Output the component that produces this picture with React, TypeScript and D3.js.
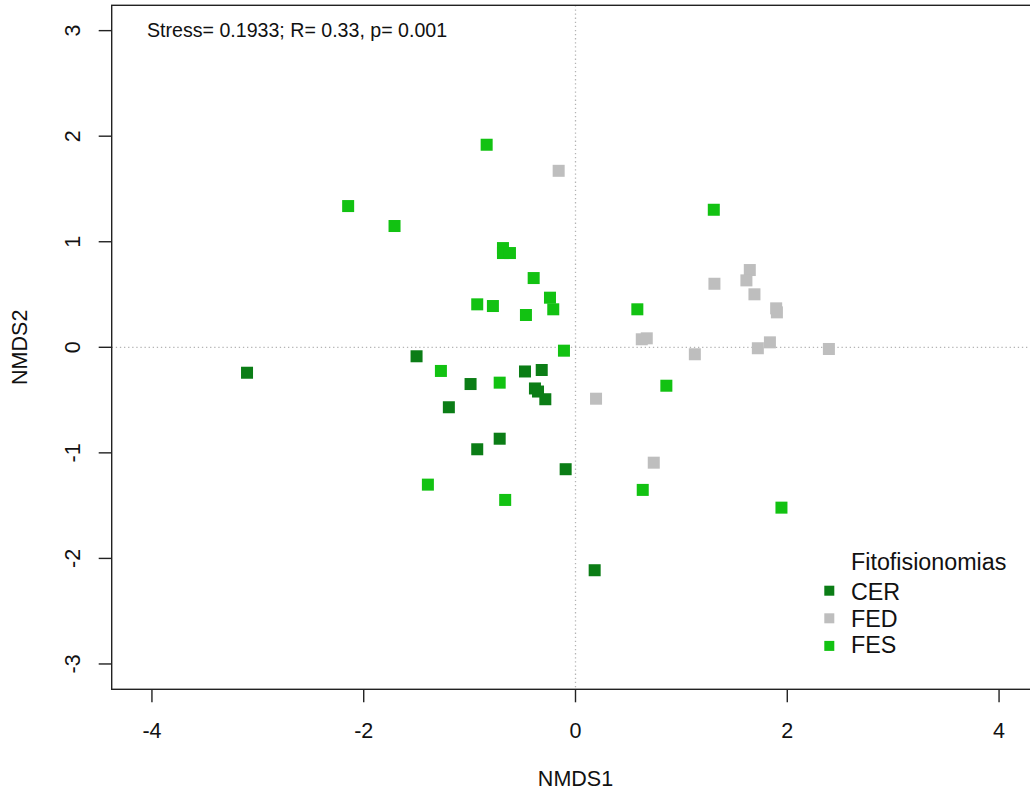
import React from "react";
import * as d3 from "d3";

const groups = ["CER", "FED", "FES"];
const groupColors = ["#0b7d16", "#bebebe", "#12c212"];

const cerX = [-3.102, -1.501, -1.196, -0.991, -0.716, -0.928, -0.477, -0.319, -0.383, -0.354, -0.285, -0.093, 0.181];
const cerY = [-0.241, -0.085, -0.568, -0.348, -0.866, -0.966, -0.229, -0.215, -0.39, -0.419, -0.492, -1.155, -2.112];

const fedX = [-0.159, 0.626, 0.673, 0.194, 0.739, 1.127, 1.312, 1.646, 1.614, 1.69, 1.895, 1.902, 1.722, 1.836, 2.393];
const fedY = [1.672, 0.076, 0.085, -0.487, -1.093, -0.066, 0.602, 0.732, 0.634, 0.502, 0.369, 0.331, -0.009, 0.047, -0.016];

const fesX = [-0.839, -2.147, -1.709, -0.685, -0.685, -0.619, -0.395, -0.928, -0.78, -0.241, -0.21, -0.468, -0.109, 0.584, 1.306, -1.271, -0.716, 0.858, -1.394, -0.664, 0.635, 1.945];
const fesY = [1.919, 1.338, 1.149, 0.94, 0.893, 0.893, 0.656, 0.407, 0.391, 0.47, 0.36, 0.306, -0.032, 0.36, 1.303, -0.224, -0.335, -0.364, -1.301, -1.446, -1.351, -1.519];

const xTicks = [-4, -2, 0, 2, 4];
const yTicks = [-3, -2, -1, 0, 1, 2, 3];

const statsText = "Stress= 0.1933; R= 0.33, p= 0.001";
const legendTitle = "Fitofisionomias";
const xTitle = "NMDS1";
const yTitle = "NMDS2";

const W = 1030;
const H = 793;
const FONT = "'Liberation Sans', Arial, Helvetica, sans-serif";

export default function App() {
  const x = d3.scaleLinear().domain([-4.38, 4.38]).range([111.7, 1039.3]);
  const y = d3.scaleLinear().domain([-3.24, 3.24]).range([689.3, 5.3]);

  const series = [
    { name: groups[0], xs: cerX, ys: cerY, color: groupColors[0] },
    { name: groups[1], xs: fedX, ys: fedY, color: groupColors[1] },
    { name: groups[2], xs: fesX, ys: fesY, color: groupColors[2] },
  ];

  const sq = 12;
  const left = x.range()[0];
  const right = x.range()[1];
  const top = y.range()[1];
  const bottom = y.range()[0];

  return (
    <svg
      width={W}
      height={H}
      viewBox={`0 0 ${W} ${H}`}
      style={{ position: "absolute", left: 0, top: 0, background: "#fff" }}
      fontFamily={FONT}
    >
      <rect x={0} y={0} width={W} height={H} fill="#fff" />
      {/* reference lines */}
      <line x1={x(0)} x2={x(0)} y1={top} y2={bottom} stroke="#b4b4b4" strokeWidth={1.3} strokeDasharray="1.3 2.8" />
      <line x1={left} x2={right} y1={y(0)} y2={y(0)} stroke="#b4b4b4" strokeWidth={1.3} strokeDasharray="1.3 2.8" />

      {/* points */}
      {series.map((s) =>
        s.xs.map((xv, i) => (
          <rect
            key={s.name + i}
            x={x(xv) - sq / 2}
            y={y(s.ys[i]) - sq / 2}
            width={sq}
            height={sq}
            fill={s.color}
          />
        ))
      )}

      {/* frame */}
      <rect x={left} y={top} width={right - left} height={bottom - top} fill="none" stroke="#222" strokeWidth={1.4} />

      {/* x axis ticks */}
      {xTicks.map((t) => (
        <g key={"xt" + t}>
          <line x1={x(t)} x2={x(t)} y1={bottom} y2={bottom + 13} stroke="#222" strokeWidth={1.4} />
          <text x={x(t)} y={737.5} textAnchor="middle" fontSize={21.5} fill="#111">
            {t}
          </text>
        </g>
      ))}
      {/* y axis ticks */}
      {yTicks.map((t) => (
        <g key={"yt" + t}>
          <line x1={left - 13} x2={left} y1={y(t)} y2={y(t)} stroke="#222" strokeWidth={1.4} />
          <text
            transform={`translate(80,${y(t)}) rotate(-90)`}
            textAnchor="middle"
            fontSize={21.5}
            fill="#111"
          >
            {t}
          </text>
        </g>
      ))}

      {/* axis titles */}
      <text x={x(0)} y={786} textAnchor="middle" fontSize={21.5} fill="#111">
        {xTitle}
      </text>
      <text transform={`translate(27,${y(0)}) rotate(-90)`} textAnchor="middle" fontSize={21.5} fill="#111">
        {yTitle}
      </text>

      {/* stats text */}
      <text x={147} y={36.7} fontSize={19.6} fill="#111">
        {statsText}
      </text>

      {/* legend */}
      <text x={851} y={570} fontSize={23.3} fill="#111">
        {legendTitle}
      </text>
      {series.map((s, i) => (
        <g key={"lg" + s.name}>
          <rect x={829.3 - 5} y={590.7 + i * 27.6 - 5} width={10} height={10} fill={s.color} />
          <text x={851} y={600 + i * 26.6} fontSize={23.3} fill="#111">
            {s.name}
          </text>
        </g>
      ))}
    </svg>
  );
}
